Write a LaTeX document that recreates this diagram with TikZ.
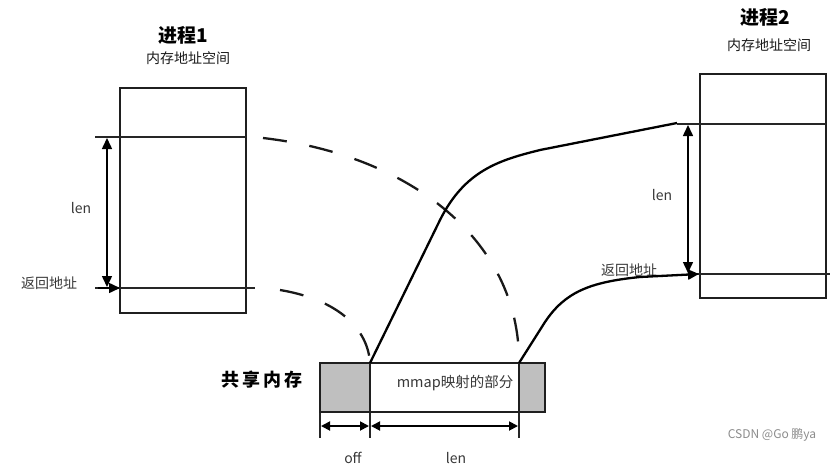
\documentclass[tikz,border=0pt]{standalone}
\usepackage{fontspec}
\newfontfamily\cjk{Noto Sans CJK SC}
\usetikzlibrary{arrows.meta}
\begin{document}
\begin{tikzpicture}[x=1pt,y=-1pt,
  box/.style={draw=black!88, line width=1.8pt, inner sep=0pt, outer sep=0pt},
  hline/.style={draw=black!85, line width=1.5pt},
  curve/.style={draw=black, line width=2.3pt},
  dcurve/.style={draw=black!90, line width=2.3pt, dash pattern=on 24pt off 23pt},
  tipr/.style={-{Triangle[length=11pt,width=10pt]}},
  dtip/.style={{Triangle[length=11pt,width=10pt]}-{Triangle[length=11pt,width=10pt]}},
  stip/.style={{Triangle[length=9pt,width=9pt]}-{Triangle[length=9pt,width=9pt]}},
  lbl/.style={font=\cjk\fontsize{14}{14}\selectfont, text=black!78, inner sep=0pt},
  title/.style={font=\cjk\bfseries\fontsize{19}{19}\selectfont, text=black, inner sep=0pt},
  sub/.style={font=\cjk\fontsize{14}{14}\selectfont, text=black!90, inner sep=0pt}
]
\useasboundingbox (0,0) rectangle (837,466);
\fill[white] (0,0) rectangle (837,466);

% titles
\node[title] (t1) at (183,35) {进程1};
\node[sub] (s1t) at (188,58) {内存地址空间};
\node[title] (t2) at (765,17) {进程2};
\node[sub] (s2t) at (769,45) {内存地址空间};

% process boxes
\node[box, minimum width=126pt, minimum height=225pt] (p1) at (183,200.5) {};
\node[box, minimum width=126pt, minimum height=224pt] (p2) at (763,186) {};

% shared memory
\fill[black!25] (320,363) rectangle (370,412);
\fill[black!25] (519,363) rectangle (545,412);
\node[box, minimum width=225pt, minimum height=49pt] (shm) at (432.5,387.5) {};
\draw[box] (370,363) -- (370,412);
\draw[box] (519,363) -- (519,412);

% named connector ends
\coordinate (sa) at (370,363);
\coordinate (sb) at (519,363);
\coordinate (p1a) at (263,138);
\coordinate (p1b) at (280,290);
\coordinate (p2a) at (677,123);
\coordinate (p2b) at (699,274);

% process 1 lines and arrows
\draw[hline] (95,137) -- (246,137);
\draw[hline] (95,288) -- (255,288);
\draw[dtip, line width=1.5pt] (107,138) -- (107,287);
\draw[tipr, line width=1.5pt] (98,288) -- (120,288);
\node[lbl] (len1) at (81,208) {len};
\node[lbl] (ret1) at (49,283) {返回地址};

% process 2 lines and arrows
\draw[hline] (677,124) -- (826,124);
\draw[hline] (697,274) -- (830,274);
\draw[dtip, line width=1.5pt] (688,125) -- (688,273);
\node[lbl] (len2) at (662,195) {len};
\node[lbl] (ret2) at (629,270) {返回地址};

% dashed curves
\draw[dcurve] (p1a) .. controls (410,155) and (520,240) .. (sb);
\draw[dcurve] (p1b) .. controls (340,300) and (368,330) .. (sa);

% solid curves
\draw[curve] (sa) -- (440,220) .. controls (465,170) and (500,160) .. (540,150) -- (p2a);
\draw[curve, tipr] (sb) -- (545,322) .. controls (565,292) and (590,282) .. (640,277) -- (p2b);

% shared labels
\node[font=\cjk\bfseries\fontsize{18}{18}\selectfont, inner sep=0pt] (shl) at (262,380) {共\hspace{3pt}享\hspace{3pt}内\hspace{3pt}存};
\node[lbl, font=\cjk\fontsize{14.5}{14.5}\selectfont] (mm) at (455,383) {mmap映射的部分};

% dimension below shared memory
\draw[hline] (320,413) -- (320,438);
\draw[hline] (370,413) -- (370,438);
\draw[hline] (519,413) -- (519,438);
\draw[stip, line width=1.8pt] (321,426) -- (369,426);
\draw[stip, line width=1.8pt] (371,426) -- (518,426);
\node[lbl] (off) at (353,458) {off};
\node[lbl] (len3) at (456,458) {len};

% watermark
\node[font=\cjk\fontsize{12}{12}\selectfont, text=black!45, inner sep=0pt] (wm) at (772,435) {CSDN @Go 鹏ya};
\end{tikzpicture}
\end{document}
